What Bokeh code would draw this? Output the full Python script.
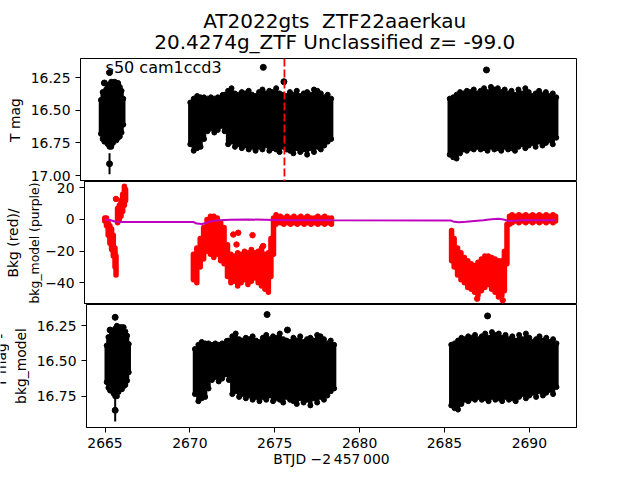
import math
from bokeh.plotting import figure
from bokeh.layouts import column, row
from bokeh.models import Range1d, FixedTicker, Span, Label, ColumnDataSource
from bokeh.core.properties import value
from bokeh.embed import file_html
from bokeh.resources import INLINE

FONT = "DejaVu Sans"

# ---------------- data ----------------
title_line1 = "AT2022gts \u00a0ZTF22aaerkau"
title_line2 = "20.4274g_ZTF Unclassified z= -99.0"
sector_text = "s50 cam1ccd3"
x_label = "BTJD \u22122\u2009457\u2009000"
ylab_top = "T mag"
ylab_mid = ["Bkg (red)/", "bkg_model (purple)"]
ylab_bot = ["T mag -", "bkg_model"]
peak_time = 2675.78

x_ticks = [2665, 2670, 2675, 2680, 2685, 2690]
mag_ticks = [16.25, 16.50, 16.75, 17.00]
bkg_ticks = [-40, -20, 0, 20]
magc_ticks = [16.25, 16.50, 16.75]

# light-curve samples (time, T mag, mag error)
t_lc = [2665.1, 2665.2, 2665.3, 2665.4, 2665.5, 2665.6, 2665.7, 2665.8, 2665.9, 2666.0, 2666.1, 2666.2, 2666.3, 2666.4,
        2670.3, 2670.5, 2670.7, 2670.9, 2671.1, 2671.3, 2671.5, 2671.7, 2671.9, 2672.1, 2672.3, 2672.5, 2672.7, 2672.9,
        2673.1, 2673.3, 2673.5, 2673.7, 2673.9, 2674.1, 2674.3, 2674.5, 2674.7, 2674.9, 2675.1, 2675.3, 2675.5, 2675.7,
        2675.9, 2676.1, 2676.3, 2676.5, 2676.7, 2676.9, 2677.1, 2677.3, 2677.5, 2677.7, 2677.9, 2678.1, 2678.3, 2678.5,
        2685.4, 2685.6, 2685.8, 2686.0, 2686.2, 2686.4, 2686.6, 2686.8, 2687.0, 2687.2, 2687.4, 2687.6, 2687.8, 2688.0,
        2688.2, 2688.4, 2688.6, 2688.8, 2689.0, 2689.2, 2689.4, 2689.6, 2689.8, 2690.0, 2690.2, 2690.4, 2690.6, 2690.8,
        2691.0, 2691.2, 2691.4, 2691.6]
mag_lc = [16.55, 16.54, 16.55, 16.53, 16.54, 16.54, 16.53, 16.52, 16.50, 16.51, 16.50, 16.51, 16.51, 16.51,
          16.60, 16.61, 16.59, 16.59, 16.56, 16.535, 16.52, 16.54, 16.525, 16.515, 16.52, 16.555, 16.535, 16.575,
          16.57, 16.575, 16.57, 16.575, 16.58, 16.60, 16.57, 16.57, 16.57, 16.58, 16.575, 16.565, 16.595, 16.58,
          16.595, 16.585, 16.605, 16.57, 16.605, 16.585, 16.60, 16.585, 16.58, 16.565, 16.585, 16.585, 16.56, 16.565,
          16.625, 16.63, 16.625, 16.595, 16.585, 16.58, 16.575, 16.57, 16.575, 16.575, 16.56, 16.585, 16.55, 16.57,
          16.56, 16.585, 16.56, 16.585, 16.57, 16.595, 16.56, 16.565, 16.56, 16.565, 16.57, 16.575, 16.545, 16.575,
          16.555, 16.56, 16.565, 16.555]
err_lc = [0.13, 0.18, 0.19, 0.19, 0.22, 0.24, 0.25, 0.23, 0.22, 0.22, 0.21, 0.19, 0.16, 0.10,
          0.16, 0.20, 0.20, 0.19, 0.16, 0.125, 0.12, 0.13, 0.125, 0.105, 0.14, 0.205, 0.205, 0.205,
          0.19, 0.215, 0.20, 0.225, 0.20, 0.21, 0.21, 0.23, 0.20, 0.23, 0.215, 0.235, 0.225, 0.20,
          0.205, 0.225, 0.225, 0.22, 0.215, 0.215, 0.24, 0.205, 0.24, 0.215, 0.215, 0.185, 0.18, 0.155,
          0.215, 0.23, 0.245, 0.235, 0.215, 0.23, 0.215, 0.23, 0.205, 0.225, 0.23, 0.225, 0.23, 0.23,
          0.23, 0.225, 0.22, 0.215, 0.22, 0.215, 0.22, 0.195, 0.23, 0.205, 0.18, 0.205, 0.195, 0.195,
          0.195, 0.17, 0.195, 0.155]
# T mag - bkg_model (bottom panel)
magc_lc = [16.52, 16.51, 16.52, 16.50, 16.51, 16.51, 16.50, 16.49, 16.48, 16.48, 16.47, 16.48, 16.48, 16.48,
           16.575, 16.585, 16.565, 16.565, 16.535, 16.51, 16.495, 16.515, 16.50, 16.49, 16.495, 16.53, 16.51, 16.55,
           16.545, 16.55, 16.545, 16.55, 16.555, 16.575, 16.545, 16.545, 16.545, 16.555, 16.55, 16.54, 16.57, 16.555,
           16.57, 16.56, 16.58, 16.545, 16.58, 16.56, 16.575, 16.56, 16.555, 16.54, 16.56, 16.56, 16.535, 16.54,
           16.60, 16.605, 16.60, 16.57, 16.56, 16.555, 16.55, 16.545, 16.55, 16.55, 16.535, 16.56, 16.525, 16.545,
           16.535, 16.56, 16.535, 16.56, 16.545, 16.57, 16.535, 16.54, 16.535, 16.54, 16.545, 16.55, 16.52, 16.55,
           16.53, 16.535, 16.54, 16.53]

# isolated points
t_out = [2665.3, 2665.6, 2665.6, 2672.2, 2674.55, 2675.75, 2687.54]
mag_out = [16.29, 16.21, 16.91, 16.385, 16.17, 16.28, 16.19]
err_out = [0.02, 0.02, 0.08, 0.02, 0.015, 0.02, 0.015]
magc_out = [16.28, 16.19, 16.85, 16.36, 16.17, 16.28, 16.18]

# background (red): range of values at each time
t_bkg = [2665.10, 2665.20, 2665.30, 2665.40, 2665.50, 2665.60, 2665.70, 2665.76, 2665.85, 2665.95, 2666.05, 2666.15, 2666.25, 2666.32,
         2670.30, 2670.50, 2670.70, 2670.90, 2671.10, 2671.30, 2671.50, 2671.70, 2671.90, 2672.10, 2672.30, 2672.50, 2672.70, 2672.90,
         2673.10, 2673.30, 2673.50, 2673.70, 2673.90, 2674.10, 2674.30, 2674.50, 2674.70, 2674.85, 2675.00, 2675.15, 2675.40, 2675.60,
         2675.80, 2676.00, 2676.20, 2676.40, 2676.60, 2676.80, 2677.00, 2677.20, 2677.40, 2677.60, 2677.80, 2678.00, 2678.20, 2678.40,
         2685.45, 2685.60, 2685.80, 2686.00, 2686.20, 2686.40, 2686.60, 2686.80, 2687.00, 2687.20, 2687.40, 2687.60, 2687.80, 2688.00,
         2688.20, 2688.40, 2688.55, 2688.70, 2688.85, 2689.00, 2689.20, 2689.40, 2689.60, 2689.80, 2690.00, 2690.20, 2690.40, 2690.60,
         2690.80, 2691.00, 2691.20, 2691.40, 2691.55]
bkg_lo = [-1, -4, -10, -15, -19, -23, -30, -35, -2, 0, 2, 5, 9, 12,
          -38, -40, -30, -25, -20, -22, -24, -22, -26, -28, -36, -40, -39, -42,
          -40, -38, -41, -39, -37, -40, -42, -44, -46, -36, -22, -3, -2, -3,
          -2, -3, -2, -3, -2, -3, -2, -3, -2, -3, -2, -3, -2, -3,
          -26, -30, -35, -38, -40, -43, -44, -46, -48, -45, -43, -41, -44, -46,
          -49, -48, -45, -28, -3, -2, -1, -2, -1, -2, -1, -2, -1, -2,
          -1, -2, -1, -2, -1]
bkg_hi = [1, 1, -2, -4, -6, -10, -18, -23, 7, 9, 12, 16, 21, 19,
          -22, -18, -12, -5, 0, 2, 2, 1, -2, -5, -16, -22, -23, -21,
          -22, -20, -21, -19, -21, -20, -18, -22, -21, -12, 1, 3, 2, 1,
          2, 1, 2, 1, 2, 1, 2, 1, 1, 2, 1, 2, 1, 1,
          -7, -12, -18, -21, -24, -26, -28, -29, -27, -25, -23, -23, -24, -25,
          -26, -26, -20, -3, 2, 3, 2, 3, 2, 3, 2, 3, 2, 3,
          2, 3, 2, 3, 2]
t_bkg_pts = [2665.76, 2672.64, 2672.83, 2672.93, 2673.77, 2674.39, 2686.95, 2688.45]
bkg_pts = [13, -9.5, -15.8, -8.4, -9.9, -16.8, -50, -51]

# background model (purple)
t_model = [2665.10, 2665.40, 2665.70, 2666.00, 2670.30, 2670.50, 2670.80, 2671.10, 2671.40, 2671.80, 2672.50,
           2673.50, 2674.50, 2675.50, 2676.50, 2677.50, 2678.40, 2685.40, 2685.60, 2685.90, 2686.30, 2686.80,
           2687.30, 2687.80, 2688.20, 2688.50, 2688.80, 2689.10, 2689.60, 2690.30, 2691.00, 2691.55]
bkg_model = [0.0, -0.3, -1.3, -1.6, -1.6, -2.6, -2.8, -2.0, -1.0, -0.5, -0.2,
             0.0, -0.2, -0.5, -0.5, -0.4, -0.5, -0.6, -1.5, -1.8, -1.5, -1.0,
             -0.5, 0.2, 0.4, 0.0, -0.9, -0.8, -0.5, -0.4, -0.5, -0.5]

# ---------------- layout ----------------
X_RANGE = (2663.91, 2692.78)
Y1 = (17.046, 16.102)
Y2 = (-53.7, 24.0)
Y3 = (16.972, 16.099)
FRAME_H = 123
FS = "13.9px"
W = 640
LEFT = 80
RIGHT = 64
TITLE_FS = "20px"


def make_fig(width, height, yr, bleft, bbot, xaxis, yticks):
    p = figure(width=width, height=height,
               x_range=Range1d(*X_RANGE), y_range=Range1d(*yr),
               output_backend="svg", toolbar_location=None,
               x_axis_location="below" if xaxis else None,
               min_border_left=bleft, min_border_right=RIGHT,
               min_border_top=0, min_border_bottom=bbot)
    p.xgrid.visible = False
    p.ygrid.visible = False
    p.outline_line_color = "black"
    p.outline_line_width = 1
    p.outline_line_alpha = 1
    p.background_fill_color = "white"
    p.border_fill_color = "white"
    axes = list(p.yaxis) + (list(p.xaxis) if xaxis else [])
    for ax in axes:
        ax.axis_line_color = "black"
        ax.major_tick_line_color = "black"
        ax.major_tick_out = 5
        ax.major_tick_in = 0
        ax.minor_tick_line_color = None
        ax.major_label_text_font = FONT
        ax.major_label_text_font_size = FS
        ax.major_label_text_color = "black"
        ax.major_label_standoff = 5
        ax.axis_label_text_font = FONT
        ax.axis_label_text_font_size = FS
        ax.axis_label_text_font_style = "normal"
        ax.axis_label_text_color = "black"
    p.yaxis.ticker = FixedTicker(ticks=yticks)
    return p


def text_strip(width, height, text, x, y):
    """Narrow plain canvas (pixel coordinates, origin bottom-left) holding a rotated y-label line."""
    s = figure(width=width, height=height, x_range=Range1d(0, width), y_range=Range1d(0, height),
               output_backend="svg", toolbar_location=None,
               x_axis_location=None, y_axis_location=None, min_border=0)
    s.xgrid.visible = False
    s.ygrid.visible = False
    s.outline_line_color = None
    s.background_fill_color = "white"
    s.border_fill_color = "white"
    s.text(x=[x], y=[y], text=[text], angle=math.pi / 2,
           text_align="center", text_baseline="middle",
           text_font=value(FONT), text_font_size=value(FS), text_color="black")
    return s


def draw_lc(p, mags, outs):
    lo = [m - e for m, e in zip(mags, err_lc)]
    hi = [m + e for m, e in zip(mags, err_lc)]
    src = ColumnDataSource(dict(t=t_lc, m=mags, lo=lo, hi=hi))
    p.segment(x0="t", y0="lo", x1="t", y1="hi", source=src, line_color="black", line_width=4.4)
    p.scatter(x="t", y="lo", source=src, size=5, color="black")
    p.scatter(x="t", y="hi", source=src, size=5, color="black")
    so = ColumnDataSource(dict(t=t_out, m=outs,
                               lo=[m - e for m, e in zip(outs, err_out)],
                               hi=[m + e for m, e in zip(outs, err_out)]))
    p.segment(x0="t", y0="lo", x1="t", y1="hi", source=so, line_color="black", line_width=2)
    p.scatter(x="t", y="m", source=so, size=6, color="black")


# --- heading (two title lines) ---
head = figure(width=W, height=58, x_range=Range1d(0, W), y_range=Range1d(58, 0),
              output_backend="svg", toolbar_location=None,
              x_axis_location=None, y_axis_location=None, min_border=0)
head.xgrid.visible = False
head.ygrid.visible = False
head.outline_line_color = None
fc = LEFT + (W - LEFT - RIGHT) / 2
head.text(x=[fc, fc], y=[20.4, 41.9], text=[title_line1, title_line2],
          text_align="center", text_baseline="middle",
          text_font=value(FONT), text_font_size=value(TITLE_FS), text_color="black")

# --- top panel ---
p1 = make_fig(W, FRAME_H, Y1, LEFT, 0, False, mag_ticks)
p1.yaxis.major_label_overrides = {16.25: "16.25", 16.5: "16.50", 16.75: "16.75", 17.0: "17.00"}
p1.yaxis.axis_label = ylab_top
p1.yaxis.axis_label_standoff = 5
draw_lc(p1, mag_lc, mag_out)
p1.add_layout(Span(location=peak_time, dimension="height", line_color="red",
                   line_dash="8 3", line_width=1.8))
p1.add_layout(Label(x=2665.37, y=16.173, text=sector_text, text_align="left",
                    text_baseline="middle", text_font=FONT, text_font_size="16px", text_color="black"))

# --- middle panel ---
SW2 = 24
p2 = make_fig(W - SW2, FRAME_H, Y2, LEFT - SW2, 0, False, bkg_ticks)
p2.yaxis.major_label_overrides = {-40: "\u221240", -20: "\u221220", 0: "0", 20: "20"}
p2.yaxis.axis_label = ylab_mid[1]
p2.yaxis.axis_label_text_font_size = "12.4px"
p2.yaxis.axis_label_standoff = 0
sb = ColumnDataSource(dict(t=t_bkg, lo=bkg_lo, hi=bkg_hi))
p2.segment(x0="t", y0="lo", x1="t", y1="hi", source=sb, line_color="red", line_width=5.5, line_cap="round")
p2.scatter(x=t_bkg_pts, y=bkg_pts, size=5.5, color="red")
p2.line(x=t_model, y=bkg_model, line_color="#BF00BF", line_width=2)
s2 = text_strip(SW2, FRAME_H, ylab_mid[0], 12.6, FRAME_H / 2)

# --- bottom panel ---
SW3 = 9
H3 = 176
p3 = make_fig(W - SW3, H3, Y3, LEFT - SW3, 53, True, magc_ticks)
p3.yaxis.major_label_overrides = {16.25: "16.25", 16.5: "16.50", 16.75: "16.75"}
p3.yaxis.axis_label = ylab_bot[1]
p3.yaxis.axis_label_standoff = 5
p3.xaxis.ticker = FixedTicker(ticks=x_ticks)
p3.xaxis.axis_label = x_label
p3.xaxis.axis_label_standoff = 0
draw_lc(p3, magc_lc, magc_out)
s3 = text_strip(SW3, H3, ylab_bot[0], 0.5, 96)

layout = column(head, p1, row(s2, p2, spacing=0), row(s3, p3, spacing=0), spacing=0)
open("out.html", "w").write(file_html(layout, INLINE))
